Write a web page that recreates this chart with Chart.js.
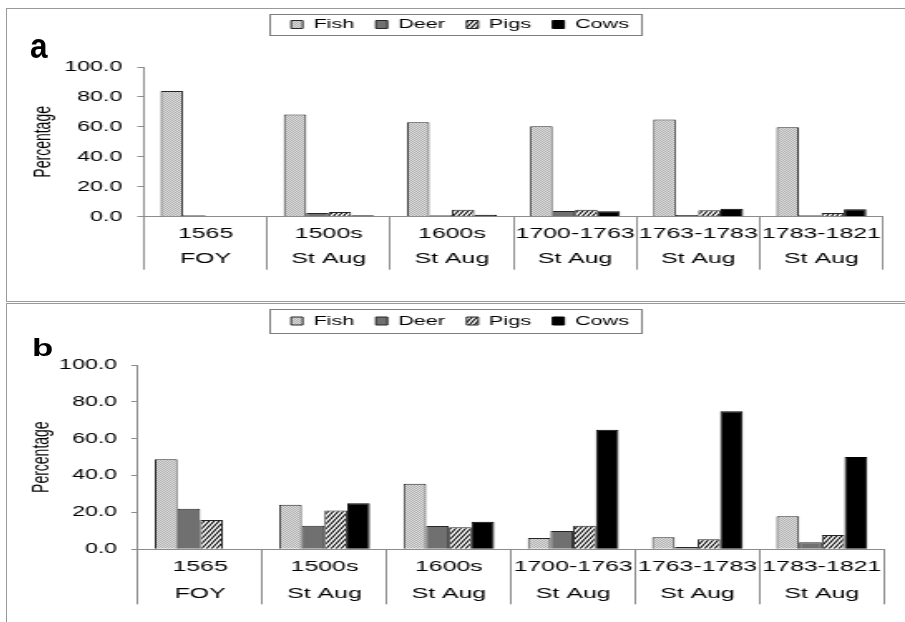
<!DOCTYPE html>
<html>
<head>
<meta charset="utf-8">
<script src="https://cdn.jsdelivr.net/npm/chart.js@4.4.1/dist/chart.umd.min.js"></script>
<style>
html, body { margin: 0; padding: 0; background: #fff; }
body { width: 905px; height: 622px; overflow: hidden; position: relative; font-family: "Liberation Sans", Arial, sans-serif; }
.frame { position: absolute; left: 6px; width: 920px; border: 1px solid #999; }
#frameA { top: 8px; height: 292px; }
#frameB { top: 303px; height: 330px; }
.stretch { position: absolute; left: 0; top: 0; transform: scaleX(1.66); transform-origin: 0 0; }
.stretch canvas { display: block; }
.tag { position: absolute; font-weight: bold; line-height: 1; transform-origin: 0 0; color: #000; }
</style>
</head>
<body>
<div class="frame" id="frameA"><div class="stretch"><canvas id="chartA" width="541" height="292"></canvas></div></div>
<div class="frame" id="frameB"><div class="stretch"><canvas id="chartB" width="541" height="318"></canvas></div></div>
<div class="tag" style="left:30px;top:28px;font-size:35px;transform:scaleX(0.9)">a</div>
<div class="tag" style="left:32px;top:336px;font-size:24px;transform:scaleX(1.45)">b</div>
<script>
const periods = ['1565', '1500s', '1600s', '1700-1763', '1763-1783', '1783-1821'];
const sites = ['FOY', 'St Aug', 'St Aug', 'St Aug', 'St Aug', 'St Aug'];
const speciesNames = ['Fish', 'Deer', 'Pigs', 'Cows'];
const yTickLabels = ['0.0', '20.0', '40.0', '60.0', '80.0', '100.0'];

// panel a
const fishA = [84.0, 68.3, 63.1, 60.5, 64.9, 59.8];
const deerA = [1.0, 2.5, 1.0, 3.8, 1.1, 0.9];
const pigsA = [0.3, 3.1, 4.7, 4.7, 4.3, 2.5];
const cowsA = [0.0, 0.9, 1.3, 3.6, 5.3, 4.9];

// panel b
const fishB = [48.8, 24.2, 35.6, 6.1, 6.5, 17.9];
const deerB = [22.0, 12.8, 12.6, 9.9, 1.2, 3.8];
const pigsB = [15.9, 21.0, 11.9, 12.8, 5.4, 7.8];
const cowsB = [0.0, 25.0, 15.0, 64.9, 74.9, 50.1];

Chart.defaults.font.family = "'Liberation Sans', Arial, sans-serif";

function makePattern(kind) {
    const c = document.createElement('canvas');
    const g = c.getContext('2d');
    if (kind === 'dots') {
        c.width = 2; c.height = 2;
        g.fillStyle = '#e0e0e0';
        g.fillRect(0, 0, 2, 2);
        g.fillStyle = '#adadad';
        g.fillRect(0, 0, 1, 1);
        g.fillRect(1, 1, 1, 1);
    } else {
        // hatch, steeper than 45deg because the canvas gets stretched sideways
        c.width = 3; c.height = 5;
        g.fillStyle = '#fff';
        g.fillRect(0, 0, 3, 5);
        g.strokeStyle = '#000';
        g.lineWidth = 1.1;
        for (const n of [-1, 0, 1]) {
            g.beginPath();
            g.moveTo(n * 3, 5);
            g.lineTo(3 + n * 3, 0);
            g.stroke();
        }
    }
    return g.createPattern(c, 'repeat');
}

const fills = [makePattern('dots'), '#707070', makePattern('hatch'), '#000'];
const edges = ['#262626', '#262626', '#262626', '#000'];

// box around the legend items
const legendFrame = {
    id: 'legendFrame',
    afterDraw(chart, args, opts) {
        const hb = chart.legend.legendHitBoxes;
        if (!hb || !hb.length) return;
        const first = hb[0], last = hb[hb.length - 1];
        const x0 = Math.round(first.left - 12.7) + 0.5;
        const x1 = Math.round(last.left + last.width + 7.2) + 0.5;
        const cy = first.top + first.height / 2;
        const ctx = chart.ctx;
        ctx.save();
        ctx.strokeStyle = '#7d7d7d';
        ctx.lineWidth = 1;
        ctx.strokeRect(x0, Math.round(cy - opts.half) + 0.5, x1 - x0, opts.half * 2);
        ctx.restore();
    }
};

function buildChart(id, values, o) {
    const datasets = speciesNames.map((name, i) => ({
        label: name,
        data: values[i],
        backgroundColor: fills[i],
        borderColor: edges[i],
        borderWidth: 1,
        barPercentage: 1,
        categoryPercentage: 0.73
    }));

    return new Chart(document.getElementById(id), {
        type: 'bar',
        data: {
            labels: periods.map((p, i) => [p, sites[i]]),
            datasets: datasets
        },
        options: {
            responsive: false,
            animation: false,
            layout: { padding: { top: o.padTop, left: o.padLeft, right: o.padRight, bottom: 0 } },
            plugins: {
                legend: {
                    position: 'top',
                    labels: { boxWidth: 7, boxHeight: 8, padding: 13, color: '#000', font: { size: 13 } }
                },
                // empty title used as a spacer between legend and plot
                title: {
                    display: true, text: '', weight: 500,
                    padding: { top: 0, bottom: o.gap },
                    font: { size: 1, lineHeight: 1 }
                },
                tooltip: { enabled: false },
                legendFrame: { half: o.half }
            },
            scales: {
                x: {
                    grid: { offset: true, drawOnChartArea: false, tickLength: o.sepLen, color: '#8c8c8c' },
                    border: { color: '#8c8c8c' },
                    ticks: {
                        autoSkip: false, maxRotation: 0, minRotation: 0,
                        color: '#000', padding: o.xPad,
                        font: { size: 15, lineHeight: o.lineH + 'px' }
                    },
                    afterFit: s => { s.height = o.xHeight; }
                },
                y: {
                    min: 0,
                    max: 100,
                    ticks: {
                        stepSize: 20, padding: o.yPad, color: '#000', font: { size: 14 },
                        callback: (v, i) => yTickLabels[i]
                    },
                    grid: { drawOnChartArea: false, tickLength: 4, color: '#8c8c8c' },
                    border: { color: '#8c8c8c' },
                    title: {
                        display: true, text: 'Percentage', color: '#000',
                        font: { size: 14, lineHeight: o.titleLH + 'px' }, padding: { top: 0, bottom: 0 }
                    },
                    afterFit: s => { s.width = o.yWidth; }
                }
            }
        },
        plugins: [legendFrame]
    });
}

buildChart('chartA', [fishA, deerA, pigsA, cowsA], {
    padTop: -4, padLeft: 18.1, padRight: 13.3, gap: 25, half: 10.5,
    sepLen: 53, xPad: -48.5, lineH: 25, xHeight: 84.3,
    yWidth: 64.4, yPad: 9, titleLH: 7.2
});

buildChart('chartB', [fishB, deerB, pigsB, cowsB], {
    padTop: -2.5, padLeft: 17.5, padRight: 12.7, gap: 26.5, half: 12,
    sepLen: 55, xPad: -50.8, lineH: 26.7, xHeight: 72.7,
    yWidth: 61.4, yPad: 8.5, titleLH: 6.8
});
</script>
</body>
</html>
